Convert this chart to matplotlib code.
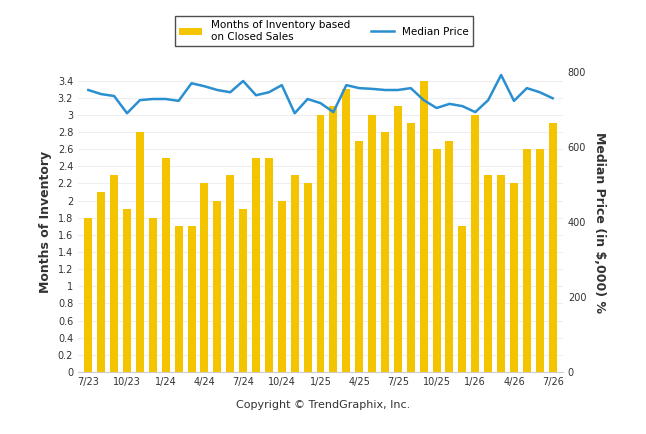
import matplotlib
matplotlib.use("Agg")
import matplotlib.pyplot as plt
import numpy as np

months = ["7/23", "8/23", "9/23", "10/23", "11/23", "12/23", "1/24", "2/24", "3/24",
          "4/24", "5/24", "6/24", "7/24", "8/24", "9/24", "10/24", "11/24", "12/24",
          "1/25", "2/25", "3/25", "4/25", "5/25", "6/25", "7/25", "8/25", "9/25",
          "10/25", "11/25", "12/25", "1/26", "2/26", "3/26", "4/26", "5/26", "6/26", "7/26"]
inventory = [1.8, 2.1, 2.3, 1.9, 2.8, 1.8, 2.5, 1.7, 1.7, 2.2, 2.0, 2.3, 1.9, 2.5, 2.5,
             2.0, 2.3, 2.2, 3.0, 3.1, 3.3, 2.7, 3.0, 2.8, 3.1, 2.9, 3.4, 2.6, 2.7, 1.7,
             3.0, 2.3, 2.3, 2.2, 2.6, 2.6, 2.9]
median_price = [752, 741, 736, 690, 725, 728, 728, 723, 770, 762, 752, 746, 776, 738,
                746, 765, 690, 728, 717, 693, 765, 757, 755, 752, 752, 757, 725, 704,
                715, 709, 693, 725, 792, 723, 757, 746, 730]

x = np.arange(len(months))
fig = plt.figure(figsize=(6.46, 4.34), dpi=100)
ax = fig.add_axes([78 / 646, 62 / 434, 485 / 646, 300 / 434])
ax2 = ax.twinx()

bars = ax.bar(x, inventory, width=0.62, color="#f5c400", zorder=2,
              label="Months of Inventory based\non Closed Sales")
line, = ax2.plot(x, median_price, color="#2a8fd0", lw=1.8, label="Median Price")

ax.set_xlim(-0.8, len(months) - 0.2)
ax.set_ylim(0, 3.5)
ax.set_yticks(np.arange(0, 3.41, 0.2))
ax.set_yticklabels([f"{v:g}" for v in np.round(np.arange(0, 3.41, 0.2), 1)])
ax2.set_ylim(0, 800)
ax2.set_yticks([0, 200, 400, 600, 800])
ax.set_xticks(x[::3])
ax.set_xticklabels(months[::3])
ax.grid(axis="y", color="#eeeeee", lw=0.8, zorder=0)
ax.set_axisbelow(True)

for a in (ax, ax2):
    for s in a.spines.values():
        s.set_visible(False)
    a.tick_params(length=0, labelsize=7, colors="#333333")
ax.spines["bottom"].set_visible(True)
ax.spines["bottom"].set_color("#cccccc")

ax.set_ylabel("Months of Inventory", fontsize=9, fontweight="bold", color="#333333")
ax2.set_ylabel("Median Price (in $,000) %", fontsize=9, fontweight="bold",
               color="#333333", rotation=270, labelpad=14)

leg = fig.legend(handles=[bars, line], loc="upper center", bbox_to_anchor=(324 / 646, 0.975),
                 ncol=2, fontsize=7.5, frameon=True, fancybox=False, edgecolor="#222222",
                 handlelength=2.2)
fig.text(0.5, 408 / 434 * 0 + 0.06, "Copyright © TrendGraphix, Inc.", ha="center",
         fontsize=8, color="#333333")

fig.savefig("out.png", dpi=100)
